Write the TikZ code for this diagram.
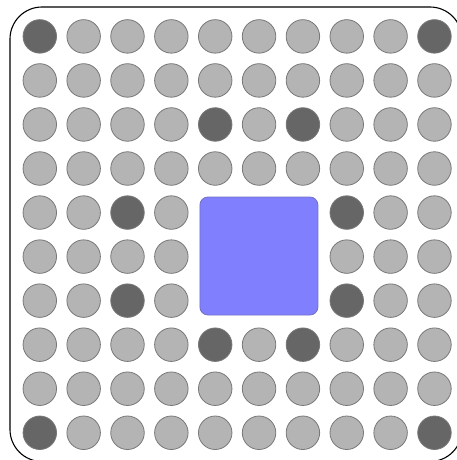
\documentclass[tikz,border=0pt]{standalone}
\usetikzlibrary{calc}
\definecolor{balllight}{HTML}{B4B4B4}
\definecolor{balldark}{HTML}{666666}
\definecolor{balledge}{HTML}{787878}
\definecolor{diefill}{HTML}{8080FF}
\definecolor{dieedge}{HTML}{7070C8}
\tikzset{
  ball/.style={circle, draw=balledge, fill=balllight, minimum size=33.5pt, inner sep=0pt, line width=0.8pt},
  ballhot/.style={ball, fill=balldark},
  die/.style={rectangle, rounded corners=8pt, draw=dieedge, fill=diefill, minimum width=118pt, minimum height=118pt, inner sep=0pt, line width=0.8pt}
}

\begin{document}
\begin{tikzpicture}[x=1pt, y=-1pt]
    \useasboundingbox (0,0) rectangle (456,460);
    % Package outline (runs off the right and bottom edges)
    \draw[line width=1.1pt, rounded corners=32pt] (10,7) rectangle (462,461.5);

    % Ball grid, leaving the middle 3x3 free for the die
    \foreach \i in {0,...,9}{
      \foreach \j in {0,...,9}{
        \pgfmathtruncatemacro{\indie}{(\i>3)*(\i<7)*(\j>3)*(\j<7)}
        \pgfmathtruncatemacro{\ishot}{((\i==0||\i==9)&&(\j==0||\j==9)) || ((\i==4||\i==6)&&(\j==2||\j==7)) || ((\i==2||\i==7)&&(\j==4||\j==6))}
        \ifnum\indie=0
          \ifnum\ishot=1
            \node[ballhot] (b-\i-\j) at (39.8+43.85*\i, 36.4+44.04*\j) {};
          \else
            \node[ball] (b-\i-\j) at (39.8+43.85*\i, 36.4+44.04*\j) {};
          \fi
        \fi
      }
    }

    % Die in the centre
    \node[die] (die) at (258.9,256) {};
\end{tikzpicture}
\end{document}
